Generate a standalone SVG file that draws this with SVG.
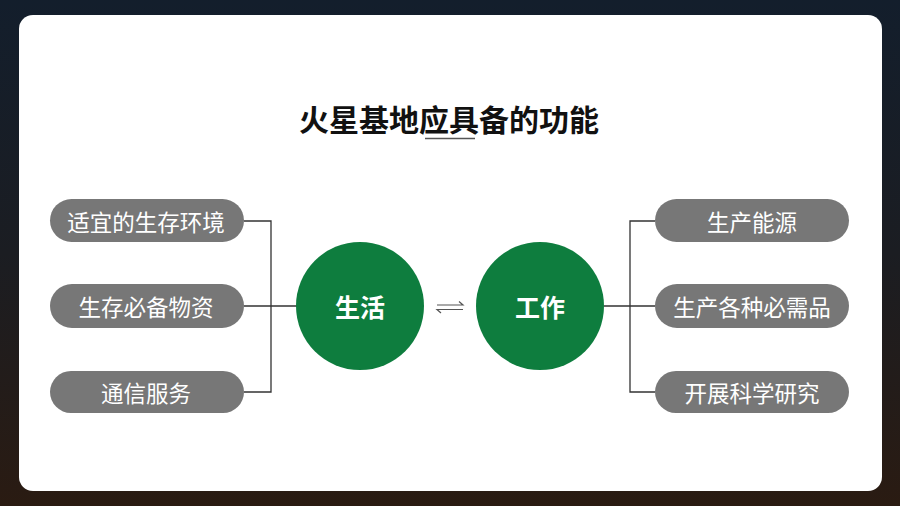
<svg xmlns="http://www.w3.org/2000/svg" width="900" height="506" viewBox="0 0 900 506">
<defs>
<linearGradient id="bg" x1="0" y1="0" x2="0" y2="1">
<stop offset="0" stop-color="#131e2c"/>
<stop offset="0.5" stop-color="#1b1d22"/>
<stop offset="1" stop-color="#2a1b12"/>
</linearGradient>
<style>
.pill{fill:#777777}
.pt{fill:#ffffff;font-family:"Noto Sans CJK SC","Noto Sans",sans-serif;font-size:22.5px;text-anchor:middle;dominant-baseline:central}
.circ{fill:#0e7d3e}
.ct{fill:#ffffff;font-family:"Noto Sans CJK SC","Noto Sans",sans-serif;font-size:25px;font-weight:bold;text-anchor:middle;dominant-baseline:central}
.ln{fill:none;stroke:#333333;stroke-width:1.3}
</style>
</defs>
<rect width="900" height="506" fill="url(#bg)"/>
<rect x="19" y="15" width="863" height="476" rx="14" fill="#ffffff"/>
<g id="title">
<text x="449" y="118" font-family="'Noto Sans CJK SC','Noto Sans',sans-serif" font-size="30" font-weight="bold" fill="#111111" text-anchor="middle" dominant-baseline="central">火星基地应具备的功能</text>
<line x1="425" y1="138.5" x2="475" y2="138.5" stroke="#555555" stroke-width="1.3"/>
</g>
<g id="connectors">
<path class="ln" d="M244 221 H271 V392 H244 M244 306 H297"/>
<path class="ln" d="M655 221 H630 V392 H655 M655 306 H604"/>
<path fill="none" stroke="#555555" stroke-width="1.2" d="M437 305 H463 L459 301.5 M463 309.5 H437 L441 313"/>
</g>
<g id="n1"><rect class="pill" x="50" y="199" width="194" height="43" rx="21.5"/><text class="pt" x="146" y="220.5">适宜的生存环境</text></g>
<g id="n2"><rect class="pill" x="50" y="284" width="194" height="44" rx="22"/><text class="pt" x="146" y="306">生存必备物资</text></g>
<g id="n3"><rect class="pill" x="50" y="371" width="194" height="42" rx="21"/><text class="pt" x="146" y="392">通信服务</text></g>
<g id="life"><circle class="circ" cx="360" cy="306" r="64"/><text class="ct" x="360" y="306">生活</text></g>
<g id="work"><circle class="circ" cx="540" cy="306" r="64"/><text class="ct" x="540" y="306">工作</text></g>
<g id="n4"><rect class="pill" x="655" y="199" width="194" height="43" rx="21.5"/><text class="pt" x="752" y="220.5">生产能源</text></g>
<g id="n5"><rect class="pill" x="655" y="284" width="194" height="44" rx="22"/><text class="pt" x="752" y="306">生产各种必需品</text></g>
<g id="n6"><rect class="pill" x="655" y="371" width="194" height="42" rx="21"/><text class="pt" x="752" y="392">开展科学研究</text></g>
</svg>
